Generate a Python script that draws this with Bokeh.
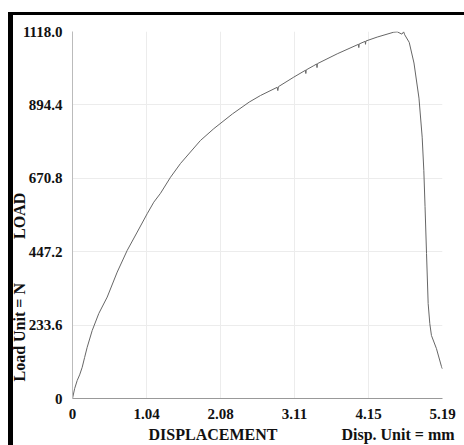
from bokeh.plotting import figure
from bokeh.models import FixedTicker, Title, Range1d
from bokeh.embed import file_html
from bokeh.resources import INLINE

# ---- data ----
disp = [0, 0.03, 0.066, 0.10, 0.136, 0.17, 0.206, 0.276, 0.369, 0.487, 0.627,
        0.767, 0.908, 1.048, 1.140, 1.234, 1.375, 1.515, 1.795, 1.982, 2.244,
        2.479, 2.637, 2.871, 2.880, 2.889, 3.104, 3.268, 3.273, 3.278, 3.385,
        3.425, 3.430, 3.435, 3.713, 4.011, 4.016, 4.021, 4.105, 4.110, 4.115,
        4.274, 4.507, 4.555, 4.620, 4.645, 4.660, 4.723, 4.790, 4.860, 4.905,
        4.928, 4.945, 4.966, 4.989, 5.012, 5.035, 5.105, 5.176, 5.19]
load = [0, 30, 55, 72, 95, 125, 156, 207, 259, 309, 385,
        451, 507, 563, 598, 625, 674, 716, 786, 822, 867,
        903, 923, 948, 938, 950, 979, 1000, 990, 1001, 1014,
        1019, 1008, 1020, 1050, 1079, 1069, 1080, 1088, 1079, 1089,
        1101, 1116, 1117, 1110, 1117, 1108, 1085, 1022, 915, 796,
        695, 585, 442, 289, 228, 192, 152, 97, 90]

x_ticks = [0, 1.038, 2.076, 3.114, 4.152, 5.19]
x_tick_labels = ["0", "1.04", "2.08", "3.11", "4.15", "5.19"]
y_ticks = [0, 223.6, 447.2, 670.8, 894.4, 1118.0]
y_tick_labels = ["0", "233.6", "447.2", "670.8", "894.4", "1118.0"]

x_title = "DISPLACEMENT"
x_unit = "Disp. Unit = mm"
y_title = "LOAD"
y_unit = "Load Unit = N"

FONT = "Liberation Serif"
NB = "\u00a0"

p = figure(width=464, height=445, output_backend="svg", toolbar_location=None,
           x_range=Range1d(0, 5.19), y_range=Range1d(0, 1118),
           min_border_left=72, min_border_right=22, min_border_top=31,
           min_border_bottom=47)
p.background_fill_color = "white"
p.border_fill_color = None
p.outline_line_color = None
# black frame (left and top edges) of the original picture, drawn behind the canvas
p.styles = {"background": "linear-gradient(#000,#000) 8px 12px / 5px 440px no-repeat, "
                          "linear-gradient(#000,#000) 8px 12px / 460px 3px no-repeat, #fff"}

p.line(disp, load, line_color="#666666", line_width=1)

for ax, ticks, labels in ((p.xaxis, x_ticks, x_tick_labels), (p.yaxis, y_ticks, y_tick_labels)):
    ax.ticker = FixedTicker(ticks=ticks)
    ax.major_label_overrides = {t: l for t, l in zip(ticks, labels)}
    ax.major_tick_line_color = None
    ax.minor_tick_line_color = None
    ax.major_label_text_font = FONT
    ax.major_label_text_font_style = "bold"
    ax.major_label_text_font_size = "15px"
    ax.major_label_text_color = "#111111"
    ax.major_label_standoff = 4

p.xaxis.axis_line_color = "#999999"
p.yaxis.axis_line_color = "#bbbbbb"

p.xgrid.grid_line_color = "#ececec"
p.ygrid.grid_line_color = "#ececec"

p.add_layout(Title(text=x_title + NB * 16 + x_unit, align="left", offset=76, standoff=4,
                   text_font=FONT, text_font_style="bold", text_font_size="16px",
                   text_color="#111111"), "below")
p.add_layout(Title(text=y_unit + NB * 11 + y_title, align="left", offset=17, standoff=-16,
                   text_font=FONT, text_font_style="bold", text_font_size="16px",
                   text_color="#111111"), "left")

open("out.html", "w").write(file_html(p, INLINE))
